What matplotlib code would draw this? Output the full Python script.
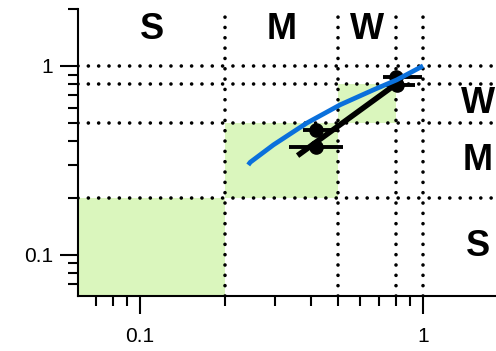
import matplotlib
matplotlib.use("Agg")
import matplotlib.pyplot as plt
from matplotlib.patches import Rectangle
from matplotlib.ticker import FixedLocator, NullFormatter, FixedFormatter

plt.rcParams['font.family'] = ['Liberation Sans', 'DejaVu Sans']

# class boundaries (S / M / W) used for both axes
class_edges = [0.2, 0.5, 0.8, 1.0]
class_names = ["S", "M", "W"]
class_centers = [0.11, 0.316, 0.632]
label_pos = 1.56

# diagonal agreement cells (x range, y range)
cell_lo = [0.05, 0.2, 0.5]
cell_hi = [0.2, 0.5, 0.8]

# model curve
curve_x = [0.241, 0.245, 0.296, 0.388, 0.509, 0.667, 0.807, 1.0]
curve_y = [0.299, 0.309, 0.382, 0.498, 0.622, 0.746, 0.843, 1.0]

# measured points with asymmetric error ranges
pt_x = [0.42, 0.42, 0.80, 0.81]
pt_y = [0.455, 0.37, 0.875, 0.79]
pt_xlo = [0.375, 0.336, 0.723, 0.74]
pt_xhi = [0.505, 0.52, 0.99, 0.935]
pt_ylo = [0.43, 0.345, 0.85, 0.77]
pt_yhi = [0.48, 0.395, 0.90, 0.81]

# trend line through the measurements
trend_x = [0.36, 0.82]
trend_y = [0.335, 0.82]

x_min, x_max = 0.0603, 1.81
y_min, y_max = 0.0605, 2.0

fig = plt.figure(figsize=(4.96, 3.51), dpi=100)
ax = fig.add_axes([78 / 496, 1 - 296 / 351, 1 - 78 / 496, (296 - 9) / 351])
ax.set_xscale("log")
ax.set_yscale("log")
ax.set_xlim(x_min, x_max)
ax.set_ylim(y_min, y_max)

green = "#daf6bd"
for lo, hi in zip(cell_lo, cell_hi):
    ax.add_patch(Rectangle((lo, lo), hi - lo, hi - lo, facecolor=green,
                           edgecolor="none", zorder=1))

dot = (0, (0.01, 2.85))
for e in class_edges:
    ax.axvline(e, color="black", lw=2.6, linestyle=dot, dash_capstyle="round", zorder=2)
    ax.axhline(e, color="black", lw=2.6, linestyle=dot, dash_capstyle="round", zorder=2)

ax.plot(trend_x, trend_y, color="black", lw=4.0, solid_capstyle="butt", zorder=3)

xerr = [[x - lo for x, lo in zip(pt_x, pt_xlo)], [hi - x for x, hi in zip(pt_x, pt_xhi)]]
yerr = [[y - lo for y, lo in zip(pt_y, pt_ylo)], [hi - y for y, hi in zip(pt_y, pt_yhi)]]
ax.errorbar(pt_x, pt_y, xerr=xerr, yerr=yerr, fmt="o", color="black",
            ms=9.5, elinewidth=2.8, capsize=0, zorder=4)

ax.plot(curve_x, curve_y, color="#0a70dc", lw=3.4, solid_capstyle="butt", zorder=5)

for name, c in zip(class_names, class_centers):
    ax.text(c, label_pos, name, ha="center", va="center", fontsize=26,
            fontweight="bold", zorder=6)
    ax.text(label_pos, c, name, ha="center", va="center", fontsize=26,
            fontweight="bold", zorder=6)

for side in ("top", "right"):
    ax.spines[side].set_visible(False)
for side in ("left", "bottom"):
    ax.spines[side].set_linewidth(1.5)

major = [0.1, 1.0]
minor = [0.07, 0.08, 0.09, 0.2, 0.3, 0.4, 0.5, 0.6, 0.7, 0.8, 0.9, 2.0]
for axis in (ax.xaxis, ax.yaxis):
    axis.set_major_locator(FixedLocator(major))
    axis.set_major_formatter(FixedFormatter(["0.1", "1"]))
    axis.set_minor_locator(FixedLocator(minor))
    axis.set_minor_formatter(NullFormatter())
ax.tick_params(which="major", length=13, width=1.5, labelsize=15, direction="out")
ax.tick_params(which="minor", length=7.2, width=1.5, direction="out")
ax.tick_params(axis="x", which="major", pad=9)
ax.tick_params(axis="y", which="major", pad=5)

fig.savefig("out.png", dpi=100)
